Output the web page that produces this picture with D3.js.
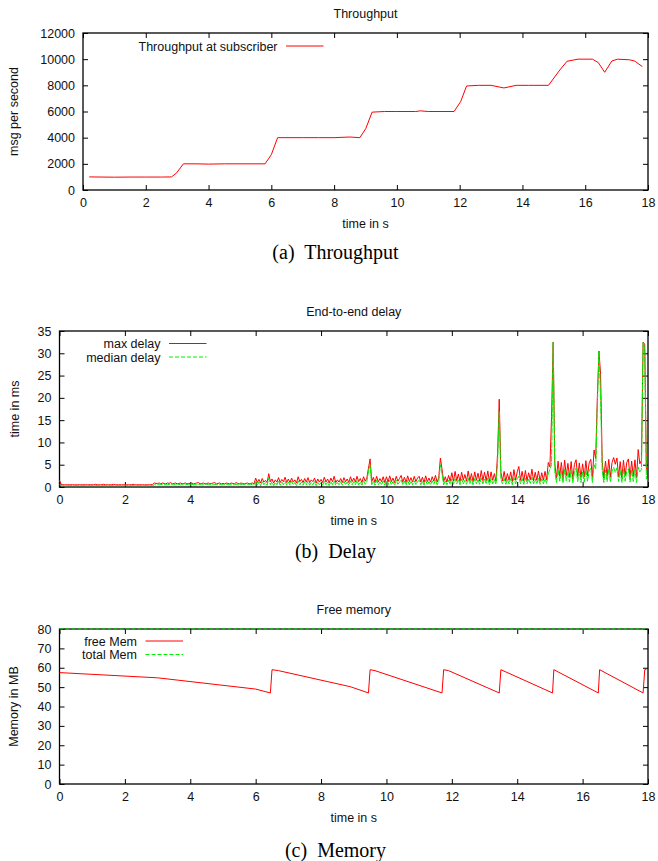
<!DOCTYPE html>
<html>
<head>
<meta charset="utf-8">
<script src="https://cdn.jsdelivr.net/npm/d3@7"></script>
<style>
  body { margin: 0; background: #fff; }
  svg { display: block; font-family: "Liberation Sans", Arial, sans-serif; }
  .cap { font-family: "Liberation Serif", "Times New Roman", serif; }
</style>
</head>
<body>
<svg id="chart" width="658" height="861"></svg>
<script>
// ── data ──
const xTicks = [0, 2, 4, 6, 8, 10, 12, 14, 16, 18];

// (a) throughput
const tpTime = [0.2, 1, 1.5, 2, 2.5, 2.82, 2.98, 3.2, 3.6, 4, 4.5, 5, 5.8, 6.0, 6.2, 7, 7.5, 8, 8.5, 8.82,
  9.01, 9.21, 9.6, 10, 10.6, 10.75, 11, 11.82, 12.03, 12.22, 12.6, 13, 13.41, 13.8, 14.2, 14.83,
  15.19, 15.42, 15.77, 16.23, 16.42, 16.62, 16.85, 17.03, 17.42, 17.58, 17.82];
const tpValue = [1000, 980, 990, 990, 990, 1000, 1300, 2000, 2000, 1980, 2000, 2000, 2000, 2700, 4000, 4000, 4000, 4000, 4050, 4000,
  4700, 5950, 6000, 6000, 6000, 6050, 6000, 6000, 6750, 7950, 8000, 8000, 7800, 8000, 8000, 8000,
  9170, 9840, 10000, 10000, 9730, 9000, 9860, 10000, 9950, 9850, 9430];
const tpTicks = [0, 2000, 4000, 6000, 8000, 10000, 12000];

// (b) delay, one sample every 0.05 s (one row per second)
const delayStep = 0.05;
const maxDelay = [
  1.5,0.6,0.5,0.5,0.5,0.5,0.5,0.5,0.5,0.5,0.5,0.5,0.5,0.5,0.5,0.5,0.5,0.5,0.5,0.5,
  0.5,0.5,0.6,0.5,0.5,0.5,0.5,0.6,0.5,0.5,0.5,0.5,0.5,0.6,0.5,0.5,0.5,0.5,0.5,0.5,
  0.5,0.5,0.5,0.5,0.5,0.6,0.5,0.5,0.5,0.5,0.5,0.5,0.5,0.5,0.5,0.5,0.5,0.6,0.9,0.8,
  0.8,0.9,0.7,0.9,0.8,0.7,0.9,0.8,1.0,0.7,0.8,0.9,0.7,0.8,0.9,0.7,0.8,0.9,0.7,0.8,
  0.8,0.9,0.7,0.8,0.9,1.0,0.7,0.8,0.9,0.7,0.8,0.9,0.7,0.8,0.9,1.0,0.7,0.8,0.9,0.7,
  0.8,0.7,0.9,0.8,0.7,0.9,0.8,0.7,1.0,0.8,0.7,0.9,0.8,0.7,0.8,0.9,0.7,0.8,0.9,0.7,
  2.0,1.0,1.7,0.9,1.9,1.1,1.5,1.0,3.0,1.2,1.8,0.9,1.6,1.1,2.1,1.0,1.7,1.2,2.2,1.0,
  1.8,1.0,2.0,1.1,1.6,0.9,2.3,1.2,1.7,1.0,1.9,1.1,2.1,1.0,1.6,1.2,2.0,0.9,1.8,1.1,
  1.7,1.0,2.2,1.1,1.8,0.9,2.0,1.2,2.4,1.0,1.6,1.1,1.9,1.0,2.1,1.2,1.8,1.0,2.3,1.2,
  2.0,1.1,2.4,1.2,1.9,1.0,2.3,1.3,2.0,4.2,6.3,1.2,2.2,1.0,2.4,1.1,1.9,1.2,2.3,1.0,
  2.3,1.1,2.5,1.2,2.0,1.0,2.4,1.3,1.9,2.6,1.1,2.2,1.0,2.5,1.2,2.1,1.1,2.4,1.2,2.0,
  2.4,1.1,2.2,1.0,2.5,1.2,2.0,1.1,2.3,1.3,2.6,1.1,2.1,6.5,4.0,1.2,2.3,1.1,2.6,1.3,
  3.2,1.3,3.5,1.4,2.9,1.2,3.3,1.5,2.8,1.3,3.6,1.4,3.0,1.2,3.4,1.5,3.1,1.3,3.7,1.4,
  3.3,1.4,3.6,1.2,3.4,1.5,3.0,1.3,7.6,19.7,3.3,1.4,3.5,1.3,3.0,1.5,3.4,1.2,3.9,1.5,
  3.4,4.6,1.5,3.5,1.3,3.7,1.4,3.2,1.6,4.0,1.4,3.3,1.5,3.6,1.3,3.2,1.5,3.5,1.6,5.5,
  4.5,15.8,32.5,5.2,2.0,5.8,2.4,5.5,1.9,6.0,2.5,5.3,2.2,5.7,1.8,5.1,6.1,2.3,5.4,2.1,
  5.2,2.2,5.9,2.5,5.4,6.2,2.1,8.3,6.4,20.0,30.5,25.3,5.6,2.0,5.8,2.4,6.2,2.2,5.5,6.6,
  5.1,6.5,2.3,5.7,2.0,6.0,2.5,5.5,6.3,2.2,5.8,2.4,6.1,2.1,8.4,5.2,6.0,32.5,32.0,4.5,
  2.0
];
const medianDelay = [
  0.5,0.3,0.3,0.3,0.3,0.3,0.3,0.3,0.3,0.3,0.3,0.3,0.3,0.3,0.3,0.3,0.3,0.3,0.3,0.3,
  0.3,0.3,0.3,0.3,0.3,0.3,0.3,0.3,0.3,0.3,0.3,0.3,0.3,0.3,0.3,0.3,0.3,0.3,0.3,0.3,
  0.3,0.3,0.3,0.3,0.3,0.3,0.3,0.3,0.3,0.3,0.3,0.3,0.3,0.3,0.3,0.3,0.3,0.3,0.5,0.5,
  0.5,0.5,0.6,0.5,0.5,0.5,0.5,0.6,0.5,0.5,0.5,0.5,0.5,0.6,0.5,0.5,0.5,0.5,0.6,0.5,
  0.5,0.6,0.5,0.5,0.5,0.6,0.5,0.5,0.5,0.5,0.6,0.5,0.5,0.5,0.5,0.6,0.5,0.5,0.5,0.5,
  0.5,0.5,0.6,0.5,0.5,0.5,0.5,0.5,0.6,0.5,0.5,0.5,0.6,0.5,0.5,0.5,0.5,0.6,0.5,0.5,
  1.2,0.4,1.1,0.3,1.3,0.5,1.0,0.4,2.0,0.5,1.2,0.3,1.0,0.5,1.4,0.4,1.1,0.5,1.3,0.4,
  1.1,0.4,1.3,0.5,1.0,0.3,1.4,0.5,1.1,0.4,1.2,0.5,1.3,0.4,1.0,0.5,1.2,0.3,1.1,0.5,
  1.0,0.4,1.3,0.5,1.1,0.3,1.2,0.5,1.4,0.4,1.0,0.5,1.2,0.4,1.3,0.5,1.1,0.4,1.4,0.5,
  1.2,0.5,1.5,0.5,1.1,0.4,1.4,0.6,1.2,3.5,5.0,0.5,1.3,0.4,1.5,0.5,1.1,0.5,1.4,0.4,
  1.4,0.5,1.5,0.5,1.2,0.4,1.5,0.6,1.1,1.6,0.5,1.3,0.4,1.5,0.5,1.3,0.5,1.4,0.5,1.2,
  1.5,0.5,1.3,0.4,1.5,0.5,1.2,0.5,1.4,0.6,1.6,0.5,1.3,5.0,3.0,0.5,1.4,0.5,1.5,0.6,
  1.8,0.6,1.9,0.7,1.6,0.5,1.8,0.7,1.5,0.6,2.0,0.7,1.7,0.5,1.9,0.7,1.7,0.6,2.0,0.7,
  1.8,0.7,2.0,0.5,1.9,0.7,1.7,0.6,5.5,16.9,1.8,0.7,1.9,0.6,1.7,0.7,1.9,0.5,2.1,0.7,
  1.9,2.4,0.7,1.9,0.6,2.0,0.7,1.8,0.8,2.2,0.7,1.8,0.7,2.0,0.6,1.8,0.7,1.9,0.8,3.0,
  4.0,5.0,32.5,3.5,1.0,3.9,1.3,3.6,0.9,4.1,1.4,3.4,1.1,3.8,0.9,3.3,4.2,1.2,3.5,1.0,
  3.4,1.1,3.9,1.3,3.5,4.2,1.0,5.0,4.0,18.0,30.5,20.0,3.6,1.0,3.8,1.2,4.1,1.1,3.5,4.4,
  3.3,4.3,1.2,3.7,1.0,3.9,1.3,3.5,4.1,1.1,3.8,1.2,4.0,1.0,4.5,3.4,3.9,32.5,31.0,1.8,
  1.5
];
const delayTicks = [0, 5, 10, 15, 20, 25, 30, 35];

// (c) memory
const memTime = [0, 3, 6, 6.45, 6.5, 6.7, 8.9, 9.45, 9.5, 9.65, 11.7, 11.75, 11.9, 13.45, 13.5,
  15.08, 15.12, 16.48, 16.52, 17.85, 17.9, 17.95];
const freeMem = [57.5, 54.8, 49, 47, 59, 58.5, 50.2, 47, 59, 58.5, 47, 59, 58.5, 47, 59,
  47, 59, 47, 59, 47, 59, 59];
const totalTime = [0, 18];
const totalMem = [80, 80];
const memTicks = [0, 10, 20, 30, 40, 50, 60, 70, 80];

// ── drawing ──
const svg = d3.select('#chart');
const FS = 12.5;
const RIGHT = 648;
const RED = '#ff0000', GREEN = '#00f000';

function panel(o) {
  const x = d3.scaleLinear([0, 18], [o.left, RIGHT]);
  const y = d3.scaleLinear(o.yDomain, [o.bottom, o.top]);
  const g = svg.append('g');
  const cx = (o.left + RIGHT) / 2;

  g.append('text').attr('x', cx).attr('y', o.top - 15)
    .attr('text-anchor', 'middle').attr('font-size', FS).attr('fill', '#111').text(o.title);

  g.append('rect')
    .attr('x', o.left).attr('y', o.top)
    .attr('width', RIGHT - o.left).attr('height', o.bottom - o.top)
    .attr('fill', 'none').attr('stroke', '#000').attr('stroke-width', 1.3);

  const put = (axis, tr) => {
    const a = g.append('g').attr('transform', tr).call(axis);
    a.select('.domain').remove();
    a.attr('font-size', FS).attr('font-family', null);
    a.selectAll('text').attr('fill', '#111');
    a.selectAll('line').attr('stroke', '#000');
  };
  put(d3.axisBottom(x).tickValues(xTicks).tickSize(-5).tickPadding(8), `translate(0,${o.bottom})`);
  put(d3.axisTop(x).tickValues(xTicks).tickSize(-5).tickFormat(''), `translate(0,${o.top})`);
  put(d3.axisLeft(y).tickValues(o.yTicks).tickSize(-5).tickPadding(8).tickFormat(d3.format('d')), `translate(${o.left},0)`);
  put(d3.axisRight(y).tickValues(o.yTicks).tickSize(-5).tickFormat(''), `translate(${RIGHT},0)`);

  // axis labels
  g.append('text').attr('x', cx).attr('y', o.bottom + 37.5)
    .attr('text-anchor', 'middle').attr('font-size', FS).attr('fill', '#111').text('time in s');
  g.append('text')
    .attr('transform', `translate(${o.ylabX},${(o.top + o.bottom) / 2}) rotate(-90)`)
    .attr('text-anchor', 'middle').attr('font-size', FS).attr('fill', '#111').text(o.ylabel);

  // series (dense data gets a tighter dash so it reads as solid, like gnuplot)
  o.series.forEach(s => {
    const line = d3.line().x((d, i) => x(s.t(d, i))).y(d => y(d));
    g.append('path').datum(s.values)
      .attr('d', line)
      .attr('fill', 'none')
      .attr('stroke', s.color).attr('stroke-width', 1)
      .attr('stroke-dasharray', s.dataDash || s.dash || null);
  });

  // legend
  o.series.forEach((s, i) => {
    const ly = o.legY + i * 13.5;
    g.append('text').attr('x', o.legX).attr('y', ly + 4.5)
      .attr('text-anchor', 'end').attr('font-size', FS).attr('fill', '#111').text(s.label);
    g.append('line')
      .attr('x1', o.legX + 8.5).attr('x2', o.legX + 46)
      .attr('y1', ly).attr('y2', ly)
      .attr('stroke', s.color).attr('stroke-width', 1)
      .attr('stroke-dasharray', s.dash || null);
  });

  // caption
  svg.append('text').attr('class', 'cap')
    .attr('x', 335.5).attr('y', o.capY)
    .attr('text-anchor', 'middle').attr('font-size', 20).attr('fill', '#000')
    .style('white-space', 'pre')
    .text(o.caption);
}

panel({
  left: 83, top: 33, bottom: 190, yDomain: [0, 12000], yTicks: tpTicks,
  title: 'Throughput', ylabel: 'msg per second', ylabX: 17.5, capY: 258.5,
  caption: '(a)  Throughput', legX: 277.5, legY: 46,
  series: [
    { label: 'Throughput at subscriber', color: RED, values: tpValue, t: (d, i) => tpTime[i] }
  ]
});

panel({
  left: 59.5, top: 331, bottom: 487, yDomain: [0, 35], yTicks: delayTicks,
  title: 'End-to-end delay', ylabel: 'time in ms', ylabX: 18.5, capY: 558,
  caption: '(b)  Delay', legX: 160.5, legY: 343.5,
  series: [
    { label: 'max delay', color: RED, values: maxDelay, t: (d, i) => i * delayStep },
    { label: 'median delay', color: GREEN, dash: '4,2', dataDash: '6,1', values: medianDelay, t: (d, i) => i * delayStep }
  ]
});

panel({
  left: 59.5, top: 629, bottom: 784, yDomain: [0, 80], yTicks: memTicks,
  title: 'Free memory', ylabel: 'Memory in MB', ylabX: 17.5, capY: 857,
  caption: '(c)  Memory', legX: 137, legY: 641,
  series: [
    { label: 'free Mem', color: RED, values: freeMem, t: (d, i) => memTime[i] },
    { label: 'total Mem', color: GREEN, dash: '4,2', values: totalMem, t: (d, i) => totalTime[i] }
  ]
});
</script>
</body>
</html>
